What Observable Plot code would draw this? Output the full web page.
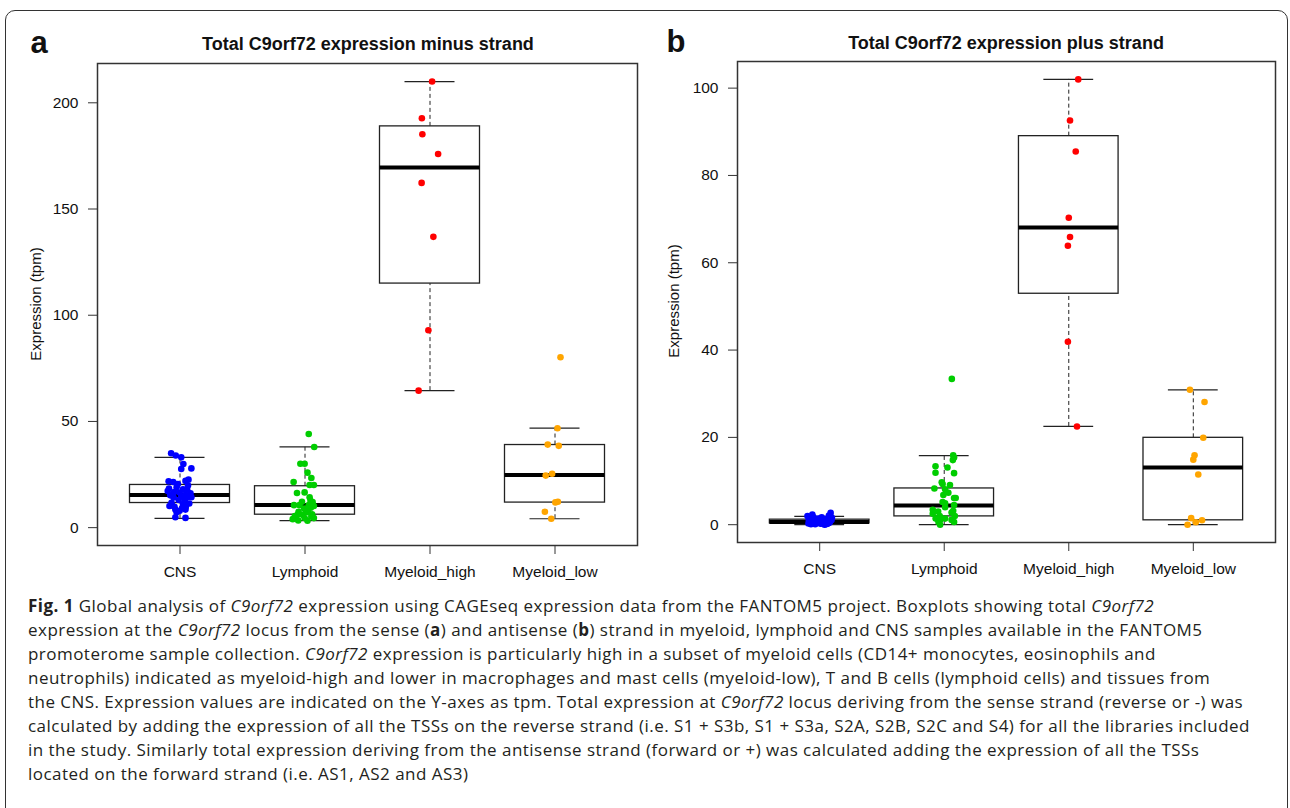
<!DOCTYPE html>
<html><head><meta charset="utf-8">
<script src="https://cdn.jsdelivr.net/npm/d3@7"></script>
<script src="https://cdn.jsdelivr.net/npm/@observablehq/plot@0.6"></script>
<style>
body{margin:0;background:#fff;}
#page{position:relative;width:1290px;height:808px;overflow:hidden;font-family:"Liberation Sans",Arial,sans-serif;background:#fff;}
.border{position:absolute;left:5px;top:10px;width:1283px;height:840px;border:1.8px solid #333;border-radius:10px 10px 0 0;box-sizing:border-box;}
.plot{position:absolute;top:0;}
.title{position:absolute;font-weight:bold;font-size:18px;transform:translate(-50%,-50%);white-space:nowrap;color:#111;}
.plabel{position:absolute;font-weight:bold;font-size:31px;transform:translate(-50%,-50%);color:#111;}
.ylab{position:absolute;font-size:15px;transform:translate(-50%,-50%) rotate(-90deg);white-space:nowrap;color:#111;}
.caption{position:absolute;left:28px;top:594px;font-family:"Open Sans",sans-serif;font-size:17px;line-height:24px;color:#231f20;}
.cap-line{white-space:nowrap;height:24px;}
.cap-line > span{display:inline-block;white-space:nowrap;}
</style>
</head><body>
<div id="page">
  <div class="border"></div>
  <div class="plabel" style="left:39px;top:43px;">a</div>
  <div class="plabel" style="left:676px;top:42px;">b</div>
  <div class="title" style="left:368px;top:44px;">Total C9orf72 expression minus strand</div>
  <div class="title" style="left:1006px;top:43px;">Total C9orf72 expression plus strand</div>
  <div class="ylab" style="left:35px;top:304px;">Expression (tpm)</div>
  <div class="ylab" style="left:673px;top:301px;">Expression (tpm)</div>
  <div id="plotA" class="plot" style="left:0px;"></div>
  <div id="plotB" class="plot" style="left:650px;"></div>
  <div class="caption" id="caption">
    <div class="cap-line"><span><b>Fig. 1</b> Global analysis of <i>C9orf72</i> expression using CAGEseq expression data from the FANTOM5 project. Boxplots showing total <i>C9orf72</i></span></div>
    <div class="cap-line"><span>expression at the <i>C9orf72</i> locus from the sense (<b>a</b>) and antisense (<b>b</b>) strand in myeloid, lymphoid and CNS samples available in the FANTOM5</span></div>
    <div class="cap-line"><span>promoterome sample collection. <i>C9orf72</i> expression is particularly high in a subset of myeloid cells (CD14+ monocytes, eosinophils and</span></div>
    <div class="cap-line"><span>neutrophils) indicated as myeloid-high and lower in macrophages and mast cells (myeloid-low), T and B cells (lymphoid cells) and tissues from</span></div>
    <div class="cap-line"><span>the CNS. Expression values are indicated on the Y-axes as tpm. Total expression at <i>C9orf72</i> locus deriving from the sense strand (reverse or -) was</span></div>
    <div class="cap-line" id="capRef"><span>calculated by adding the expression of all the TSSs on the reverse strand (i.e. S1 + S3b, S1 + S3a, S2A, S2B, S2C and S4) for all the libraries included</span></div>
    <div class="cap-line"><span>in the study. Similarly total expression deriving from the antisense strand (forward or +) was calculated adding the expression of all the TSSs</span></div>
    <div class="cap-line"><span>located on the forward strand (i.e. AS1, AS2 and AS3)</span></div>
  </div>
</div>
<script>
// ---------- data ----------
const categories = ["CNS", "Lymphoid", "Myeloid_high", "Myeloid_low"];
const groupColors = ["#0000FF", "#00CD00", "#FF0000", "#FFA500"];

// Panel a: minus strand box statistics
const minusLow    = [4.4, 3.3, 64.5, 4.2];
const minusQ1     = [11.6, 6.1, 114.9, 11.8];
const minusMedian = [15.4, 10.7, 169.5, 24.8];
const minusQ3     = [20.1, 19.5, 188.9, 38.9];
const minusHigh   = [33.1, 38.0, 210.0, 46.9];
const minusTicks  = [0, 50, 100, 150, 200];

// Panel a points: [value, horizontal jitter]
const minusCNS = [[35.0,-0.071],[34.0,-0.034],[33.1,0.010],[30.0,0.027],[27.6,0.010],[27.9,0.091],[21.8,-0.091],[21.5,-0.054],[22.6,0.068],[22.0,0.044],[19.8,0.064],[18.4,-0.088],[19.0,-0.027],[18.0,0.024],[16.8,-0.047],[16.2,0.084],[16.5,-0.003],[15.5,0.044],[15.2,-0.078],[14.3,0.091],[13.0,-0.010],[13.3,0.041],[11.4,0.074],[11.7,-0.068],[10.2,-0.084],[9.8,-0.044],[9.2,0.017],[8.5,0.044],[7.9,-0.003],[8.5,-0.037],[10.5,-0.064],[4.9,-0.037],[4.6,0.044],[18.0,0.057],[20.5,-0.017],[11.1,0.024],[14.2,-0.051],[14.5,0.064],[14.8,0.010],[17.2,-0.098],[7.2,-0.027],[9.8,0.047]];
const minusLymphoid = [[44.1,0.030],[38.0,0.074],[30.1,-0.037],[30.1,-0.003],[25.9,0.020],[23.4,0.051],[21.5,-0.091],[20.1,0.037],[20.1,0.071],[16.3,-0.064],[16.6,-0.003],[14.3,0.037],[12.7,0.044],[12.2,-0.024],[12.0,0.061],[10.6,-0.088],[10.6,-0.044],[10.6,0.030],[10.2,0.071],[5.5,-0.081],[9.0,-0.007],[5.2,0.051],[7.5,-0.051],[7.3,0.024],[6.3,-0.057],[6.3,0.057],[6.0,-0.017],[4.7,-0.071],[4.5,-0.003],[4.5,0.071],[3.4,-0.054],[3.3,0.020],[9.4,0.047],[4.0,-0.098],[8.2,0.007]];
const minusMyeloidHigh = [[210.0,0.017],[192.7,-0.065],[185.2,-0.061],[175.9,0.065],[162.3,-0.067],[136.9,0.027],[92.9,-0.013],[64.5,-0.091]];
const minusMyeloidLow = [[80.2,0.044],[46.8,0.020],[39.1,-0.058],[38.5,0.030],[25.4,-0.023],[24.5,-0.074],[12.2,0.023],[11.9,0.003],[7.5,-0.081],[4.2,-0.030]];

// Panel b: plus strand box statistics
const plusLow    = [0.0, 0.0, 22.5, 0.0];
const plusQ1     = [0.3, 1.9, 52.9, 1.0];
const plusMedian = [0.6, 4.4, 68.1, 13.1];
const plusQ3     = [1.15, 8.3, 89.0, 19.9];
const plusHigh   = [1.9, 15.8, 102.0, 30.9];
const plusTicks  = [0, 20, 40, 60, 80, 100];

const plusCNS = [[2.7,0.088],[2.1,0.074],[2.3,-0.059],[2.0,-0.098],[1.4,-0.075],[1.1,-0.043],[1.4,-0.010],[1.0,0.023],[1.3,0.049],[1.1,0.095],[0.4,-0.066],[0.1,-0.036],[0.2,0.007],[0.0,0.039],[0.4,0.072],[0.7,-0.082],[0.7,-0.020],[0.7,0.056],[1.7,0.016],[1.6,0.098],[1.7,-0.049],[0.3,-0.090],[0.5,-0.005],[0.9,0.030],[0.2,0.060],[0.6,-0.060],[0.8,0.085],[0.3,0.020],[0.1,-0.070],[0.5,0.045],[0.4,-0.025],[0.6,0.010],[0.2,-0.045],[0.8,-0.035],[0.3,0.065],[1.2,-0.088],[0.9,0.000],[0.5,0.080],[0.1,0.050],[0.6,-0.015],[1.0,-0.060],[0.7,0.035]];
const plusLymphoid = [[33.4,0.061],[15.9,0.072],[15.4,0.079],[14.8,0.069],[13.4,-0.070],[13.1,0.026],[11.9,-0.070],[11.8,0.079],[9.7,-0.020],[9.3,-0.013],[9.1,0.046],[8.3,-0.079],[8.1,0.007],[7.3,0.033],[6.8,-0.007],[6.1,0.079],[6.1,0.092],[5.2,-0.013],[4.9,0.007],[4.5,0.079],[4.0,0.007],[3.4,-0.092],[3.0,-0.049],[3.2,0.072],[2.8,0.059],[2.5,-0.092],[2.0,-0.036],[2.0,0.085],[1.4,-0.069],[1.1,-0.033],[1.4,0.007],[1.1,0.059],[0.6,-0.046],[0.6,0.079],[0.0,-0.033]];
const plusMyeloidHigh = [[102.0,0.076],[92.6,0.010],[85.5,0.056],[70.3,0.000],[65.9,0.010],[63.9,-0.007],[41.9,-0.007],[22.5,0.066]];
const plusMyeloidLow = [[30.9,-0.027],[28.1,0.090],[19.9,0.080],[15.9,0.010],[14.9,0.000],[11.5,0.040],[1.5,-0.017],[0.55,0.020],[1.0,0.070],[0.0,-0.046]];

// ---------- drawing ----------
function panel({low, q1, median, q3, high, groups, yDomain, yTicks, width, height, margins}) {
  const boxes = categories.map((c, i) => ({i: i + 1, low: low[i], q1: q1[i], median: median[i], q3: q3[i], high: high[i]}));
  const points = groups.flatMap((g, gi) => g.map(([v, j]) => ({x: gi + 1 + j, y: v, color: groupColors[gi]})));
  const half = 0.4, cap = 0.2;
  return Plot.plot({
    width, height,
    marginLeft: margins[0], marginRight: margins[1], marginTop: margins[2], marginBottom: margins[3],
    style: {fontFamily: "'Liberation Sans', Arial, sans-serif", fontSize: "15.5px", color: "#111", background: "transparent", overflow: "visible"},
    x: {domain: [0.34, 4.66]},
    y: {domain: yDomain},
    marks: [
      Plot.ruleX(boxes, {x: "i", y1: "q3", y2: "high", stroke: "#222", strokeWidth: 1, strokeDasharray: "4,3"}),
      Plot.ruleX(boxes, {x: "i", y1: "low", y2: "q1", stroke: "#222", strokeWidth: 1, strokeDasharray: "4,3"}),
      Plot.ruleY(boxes, {y: "high", x1: d => d.i - cap, x2: d => d.i + cap, stroke: "#222", strokeWidth: 1.2}),
      Plot.ruleY(boxes, {y: "low", x1: d => d.i - cap, x2: d => d.i + cap, stroke: "#222", strokeWidth: 1.2}),
      Plot.rect(boxes, {x1: d => d.i - half, x2: d => d.i + half, y1: "q1", y2: "q3", fill: "white", stroke: "#222", strokeWidth: 1.3}),
      Plot.ruleY(boxes, {y: "median", x1: d => d.i - half, x2: d => d.i + half, stroke: "#000", strokeWidth: 4}),
      Plot.dot(points, {x: "x", y: "y", r: 3.3, fill: "color", stroke: null}),
      Plot.frame({stroke: "#333", strokeWidth: 1.5}),
      Plot.axisX({ticks: [1, 2, 3, 4], tickFormat: d => categories[d - 1], tickSize: 9, tickPadding: 11, label: null, stroke: "#333"}),
      Plot.axisY({ticks: yTicks, tickSize: 9, tickPadding: 10, label: null, stroke: "#333"})
    ]
  });
}

document.getElementById("plotA").appendChild(panel({
  low: minusLow, q1: minusQ1, median: minusMedian, q3: minusQ3, high: minusHigh,
  groups: [minusCNS, minusLymphoid, minusMyeloidHigh, minusMyeloidLow],
  yDomain: [-8.4, 218.5], yTicks: minusTicks,
  width: 650, height: 600, margins: [97, 13, 63, 55]
}));
document.getElementById("plotB").appendChild(panel({
  low: plusLow, q1: plusQ1, median: plusMedian, q3: plusQ3, high: plusHigh,
  groups: [plusCNS, plusLymphoid, plusMyeloidHigh, plusMyeloidLow],
  yDomain: [-4.08, 106.1], yTicks: plusTicks,
  width: 640, height: 600, margins: [87, 15, 61, 58]
}));

// one common letter-spacing for the caption, set so the longest line ends where it does in the reference
const refSpan = document.querySelector("#capRef > span");
const w = refSpan.getBoundingClientRect().width;
const ls = (1250 - 28 - w) / refSpan.textContent.length;
document.getElementById("caption").style.letterSpacing = ls + "px";
</script>
</body></html>
